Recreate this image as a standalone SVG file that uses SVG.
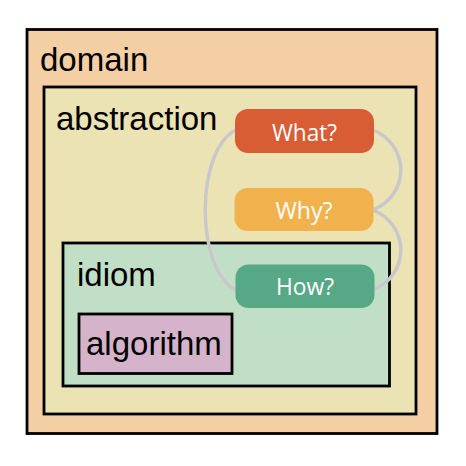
<svg xmlns="http://www.w3.org/2000/svg" width="466" height="466" viewBox="0 0 466 466">
<style>
.box{stroke:#000;stroke-width:2.8}
.lbl{font-family:"Liberation Sans",Arial,sans-serif;font-size:33px;fill:#000}
.q{font-family:"Open Sans","Noto Sans",sans-serif;font-size:24px;fill:#fff;text-anchor:middle;lengthAdjust:spacingAndGlyphs}
.con{fill:none;stroke:#C8C8CA;stroke-width:3.5}
</style>
<rect width="466" height="466" fill="#fff"/>
<g id="domain">
<rect class="box" x="27" y="29.5" width="410" height="404" fill="#F4CFA4"/>
<text class="lbl" x="40" y="71">domain</text>
</g>
<g id="abstraction">
<rect class="box" x="44" y="87" width="372" height="327" fill="#ECE3B5"/>
<text class="lbl" x="56" y="130">abstraction</text>
</g>
<g id="idiom">
<rect class="box" x="63" y="243" width="326.5" height="143" fill="#C1DFC6"/>
<text class="lbl" x="77" y="286">idiom</text>
</g>
<g id="algorithm">
<rect class="box" x="79" y="314" width="153" height="59.5" fill="#D5B3CA"/>
<text class="lbl" x="86" y="355">algorithm</text>
</g>
<g id="connectors">
<path class="con" d="M236,130 C195,150 195,270 236,290"/>
<path class="con" d="M373,130 C410,145 410,195 373,210"/>
<path class="con" d="M373,210 C410,225 410,275 373,290"/>
</g>
<g id="what">
<rect x="235" y="109" width="139" height="44" rx="13" fill="#D85C34"/>
<text class="q" x="304.5" y="141" textLength="65" lengthAdjust="spacingAndGlyphs">What?</text>
</g>
<g id="why">
<rect x="234.5" y="188" width="139" height="43" rx="13" fill="#F1B24D"/>
<text class="q" x="304" y="218.5" textLength="57" lengthAdjust="spacingAndGlyphs">Why?</text>
</g>
<g id="how">
<rect x="235.5" y="264.5" width="139" height="43.5" rx="13" fill="#57A886"/>
<text class="q" x="305" y="295" textLength="58" lengthAdjust="spacingAndGlyphs">How?</text>
</g>
</svg>
